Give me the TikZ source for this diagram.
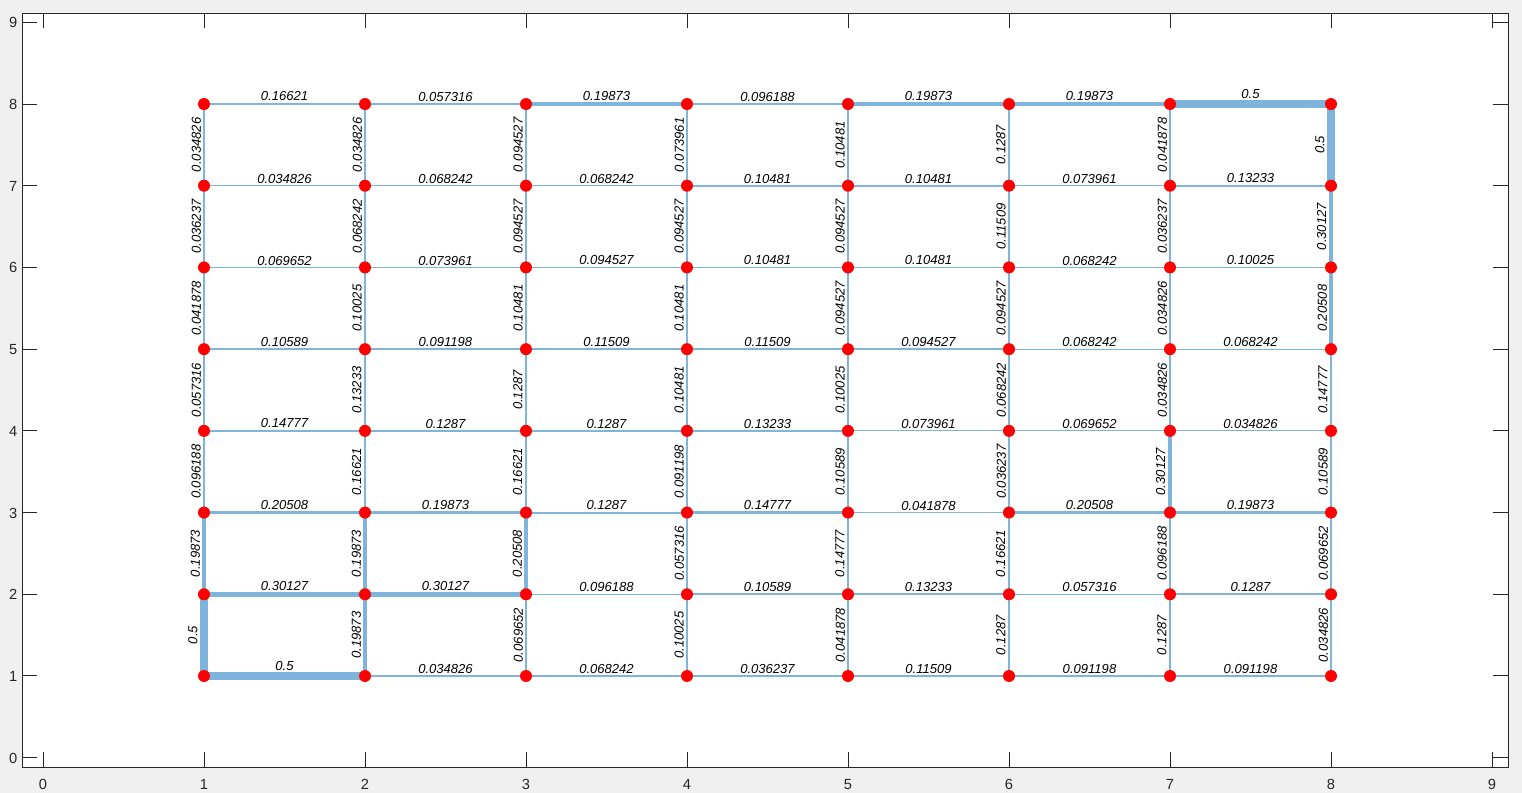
\documentclass[tikz,border=0pt]{standalone}
\usepackage{fontspec}
\setmainfont{Liberation Sans}
\definecolor{edgeblue}{RGB}{127,180,220}
\definecolor{axgray}{RGB}{38,38,38}
\definecolor{figbg}{RGB}{240,240,240}

\begin{document}
\begin{tikzpicture}[x=0.75pt, y=-0.75pt,
    edgeline/.style={draw=edgeblue},
    vertex/.style={circle, fill=red, inner sep=0pt, minimum size=9pt},
    hlabel/.style={anchor=south, inner sep=1.2pt, font=\fontsize{9.8}{11}\selectfont\itshape},
    vlabel/.style={rotate=90, anchor=south, inner sep=1.8pt, font=\fontsize{9.8}{11}\selectfont\itshape},
    ticklabel/.style={text=axgray, inner sep=0pt, font=\fontsize{11}{13}\selectfont},
    axline/.style={draw=axgray, line width=0.75pt}]
    \useasboundingbox (0,0) rectangle (1522,793);
    \fill[figbg] (0,0) rectangle (1522,793);
    \fill[white] (22,13) rectangle (1508,767);

    % axes, ticks and tick labels
    \foreach \k in {0,...,9} {
        \draw[axline] ({43+161*\k},767) -- ++(0,-15) ({43+161*\k},13) -- ++(0,15);
        \draw[axline] (22,{757.7-81.71*\k}) -- ++(15,0) (1508,{757.7-81.71*\k}) -- ++(-15,0);
        \node[ticklabel, anchor=base] (tx-\k) at ({43+161*\k},789.5) {\k};
        \node[ticklabel, anchor=base east] (ty-\k) at (17.5,{763.2-81.71*\k}) {\k};
    }
    \draw[axline] (22,13) rectangle (1508,767);

    % grid points
    \foreach \i in {1,...,8}
        \foreach \j in {1,...,8}
            \coordinate (p-\i-\j) at ({43+161*\i},{757.7-81.71*\j});

    % horizontal edges, row by row
    \foreach \y/\ws in {
        8/{0.16621,0.057316,0.19873,0.096188,0.19873,0.19873,0.5},
        7/{0.034826,0.068242,0.068242,0.10481,0.10481,0.073961,0.13233},
        6/{0.069652,0.073961,0.094527,0.10481,0.10481,0.068242,0.10025},
        5/{0.10589,0.091198,0.11509,0.11509,0.094527,0.068242,0.068242},
        4/{0.14777,0.1287,0.1287,0.13233,0.073961,0.069652,0.034826},
        3/{0.20508,0.19873,0.1287,0.14777,0.041878,0.20508,0.19873},
        2/{0.30127,0.30127,0.096188,0.10589,0.13233,0.057316,0.1287},
        1/{0.5,0.034826,0.068242,0.036237,0.11509,0.091198,0.091198}}
        \foreach \w [count=\i] in \ws {
            \pgfmathtruncatemacro\k{\i+1}
            \pgfmathsetmacro\lw{max(0.85,12*\w)}
            \draw[edgeline, line width=\lw pt] (p-\i-\y) -- (p-\k-\y)
                node[midway, hlabel] (h-\i-\y) {\w};
        }

    % vertical edges, column by column (top to bottom)
    \foreach \x/\ws in {
        1/{0.034826,0.036237,0.041878,0.057316,0.096188,0.19873,0.5},
        2/{0.034826,0.068242,0.10025,0.13233,0.16621,0.19873,0.19873},
        3/{0.094527,0.094527,0.10481,0.1287,0.16621,0.20508,0.069652},
        4/{0.073961,0.094527,0.10481,0.10481,0.091198,0.057316,0.10025},
        5/{0.10481,0.094527,0.094527,0.10025,0.10589,0.14777,0.041878},
        6/{0.1287,0.11509,0.094527,0.068242,0.036237,0.16621,0.1287},
        7/{0.041878,0.036237,0.034826,0.034826,0.30127,0.096188,0.1287},
        8/{0.5,0.30127,0.20508,0.14777,0.10589,0.069652,0.034826}}
        \foreach \w [count=\c] in \ws {
            \pgfmathtruncatemacro\lo{8-\c}
            \pgfmathtruncatemacro\hi{9-\c}
            \pgfmathsetmacro\lw{max(0.85,12*\w)}
            \draw[edgeline, line width=\lw pt] (p-\x-\lo) -- (p-\x-\hi)
                node[midway, vlabel] (v-\x-\lo) {\w};
        }

    % vertices
    \foreach \i in {1,...,8}
        \foreach \j in {1,...,8}
            \node[vertex] (d-\i-\j) at (p-\i-\j) {};
\end{tikzpicture}
\end{document}
